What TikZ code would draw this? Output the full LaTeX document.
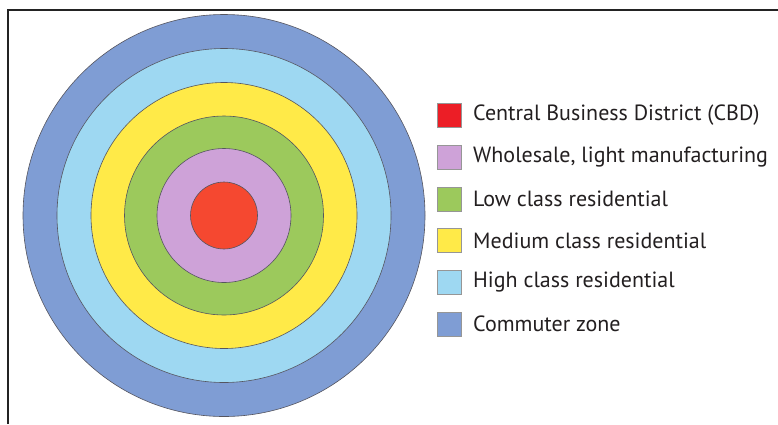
\documentclass[tikz,border=0pt]{standalone}
\usepackage{fontspec}
\setmainfont{PT Sans}
\definecolor{commuter}{RGB}{127,157,212}
\definecolor{highres}{RGB}{158,216,242}
\definecolor{medres}{RGB}{255,234,72}
\definecolor{lowres}{RGB}{156,201,92}
\definecolor{wholesale}{RGB}{206,162,216}
\definecolor{cbdring}{RGB}{245,72,48}
\definecolor{cbdkey}{RGB}{236,30,38}
\definecolor{txt}{RGB}{35,31,32}
\tikzset{
  ring/.style={draw={rgb,255:red,85;green,85;blue,95}, line width=0.6pt},
  keybox/.style={draw={rgb,255:red,150;green,150;blue,150}, line width=0.6pt, minimum width=24pt, minimum height=24pt, inner sep=0pt},
  keytext/.style={anchor=west, inner sep=0pt, text=txt, font=\fontsize{22}{26}\selectfont}
}
\begin{document}
\begin{tikzpicture}[x=1pt,y=-1pt]
\useasboundingbox (0,0) rectangle (778,424);
\fill[white] (0,0) rectangle (778,424);
% frame
\draw[line width=2.6pt, color={rgb,255:red,35;green,35;blue,35}] (8,424) -- (8,10) -- (778,10);
% rings
\coordinate (c) at (224,215.5);
\fill[commuter, ring] (c) circle[radius=201];
\fill[highres, ring] (c) circle[radius=167];
\fill[medres, ring] (c) circle[radius=133];
\fill[lowres, ring] (c) circle[radius=99.5];
\fill[wholesale, ring] (c) circle[radius=67];
\fill[cbdring, ring] (c) circle[radius=33.5];
% legend
\node[keybox, fill=cbdkey]    (k1) at (449.5,115) {};
\node[keybox, fill=wholesale] (k2) at (449.5,157) {};
\node[keybox, fill=lowres]    (k3) at (449.5,199) {};
\node[keybox, fill=medres]    (k4) at (449.5,240.5) {};
\node[keybox, fill=highres]   (k5) at (449.5,282) {};
\node[keybox, fill=commuter]  (k6) at (449.5,324) {};
\node[keytext] (t1) at (473,115) {Central Business District (CBD)};
\node[keytext] (t2) at (473,157) {Wholesale, light manufacturing};
\node[keytext] (t3) at (473,199) {Low class residential};
\node[keytext] (t4) at (473,240.5) {Medium class residential};
\node[keytext] (t5) at (473,282) {High class residential};
\node[keytext] (t6) at (473,324) {Commuter zone};
\end{tikzpicture}
\end{document}
